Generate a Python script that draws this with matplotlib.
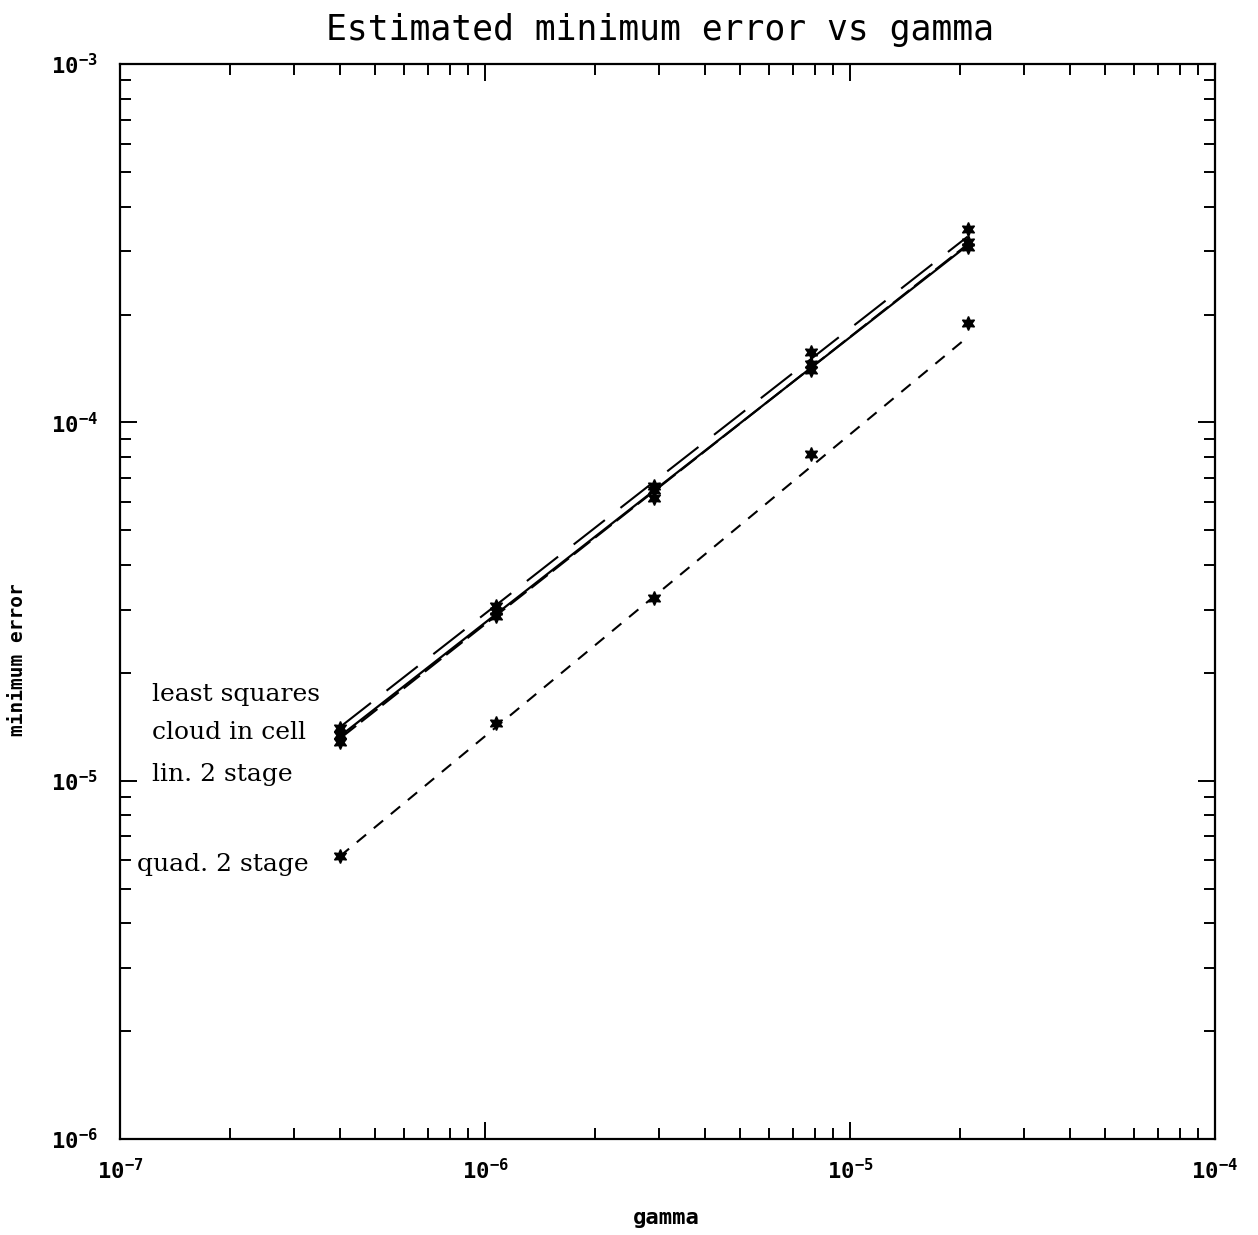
import matplotlib.pyplot as plt
import numpy as np
from matplotlib.ticker import LogLocator, FuncFormatter, NullFormatter

plt.rcParams['font.family'] = 'DejaVu Sans Mono'
plt.rcParams['mathtext.fontset'] = 'custom'
plt.rcParams['mathtext.rm'] = 'DejaVu Sans Mono'

# gamma values of the runs
gamma = np.array([4.0e-7, 1.07e-6, 2.9e-6, 7.8e-6, 2.1e-5])

# measured minimum error for each method
err_least_squares = np.array([1.34e-5, 2.98e-5, 6.48e-5, 1.46e-4, 3.18e-4])
err_cloud_in_cell = np.array([1.40e-5, 3.07e-5, 6.65e-5, 1.57e-4, 3.46e-4])
err_lin_2stage = np.array([1.28e-5, 2.88e-5, 6.16e-5, 1.40e-4, 3.08e-4])
err_quad_2stage = np.array([6.15e-6, 1.45e-5, 3.24e-5, 8.18e-5, 1.89e-4])

# fitted lines, value at first and last gamma
fit_gamma = np.array([4.0e-7, 2.1e-5])
fit_least_squares = np.array([1.33e-5, 3.12e-4])
fit_cloud_in_cell = np.array([1.41e-5, 3.30e-4])
fit_lin_2stage = np.array([1.31e-5, 3.14e-4])
fit_quad_2stage = np.array([6.15e-6, 1.73e-4])

labels = ['least squares', 'cloud in cell', 'lin. 2 stage', 'quad. 2 stage']

fig = plt.figure(figsize=(12.58, 12.35), dpi=100)
ax = fig.add_axes([0.0954, 0.0777, 0.8704, 0.8704])

star = (6, 1, 0)
for e in [err_least_squares, err_cloud_in_cell, err_lin_2stage, err_quad_2stage]:
    ax.plot(gamma, e, linestyle='none', marker=star, markersize=10, color='black')

ax.plot(fit_gamma, fit_least_squares, color='black', lw=1.6)
ax.plot(fit_gamma, fit_cloud_in_cell, color='black', lw=1.5, dashes=(19, 9.5))
ax.plot(fit_gamma, fit_lin_2stage, color='black', lw=1.5, dashes=(10, 3))
ax.plot(fit_gamma, fit_quad_2stage, color='black', lw=1.5, dashes=(5.8, 4.8))

ax.set_xscale('log')
ax.set_yscale('log')
ax.set_xlim(1e-7, 1e-4)
ax.set_ylim(1e-6, 1e-3)

def decade(v, pos):
    return '$\\mathregular{10^{%d}}$' % int(round(np.log10(v)))

for axis in [ax.xaxis, ax.yaxis]:
    axis.set_major_locator(LogLocator(base=10, numticks=10))
    axis.set_minor_locator(LogLocator(base=10, subs=np.arange(2, 10), numticks=10))
    axis.set_major_formatter(FuncFormatter(decade))
    axis.set_minor_formatter(NullFormatter())

ax.tick_params(which='both', direction='in', top=True, right=True, width=1.4)
ax.tick_params(which='major', length=12)
ax.tick_params(which='minor', length=8)
ax.tick_params(axis='x', which='major', pad=14, labelsize=16)
ax.tick_params(axis='y', which='major', pad=16, labelsize=16)
for lab in ax.get_xticklabels() + ax.get_yticklabels():
    lab.set_fontweight('bold')
for s in ax.spines.values():
    s.set_linewidth(1.6)

# method names next to the lines
for txt, x, y in zip(labels, [0.029, 0.029, 0.029, 0.0155], [0.414, 0.378, 0.339, 0.255]):
    ax.text(x, y, txt, transform=ax.transAxes, family='DejaVu Serif',
            fontsize=18, va='center', ha='left')

fig.text(0.525, 1 - 30 / 1235, 'Estimated minimum error vs gamma', fontsize=25,
         ha='center', va='center')
fig.text(0.53, 1 - 1218 / 1235, 'gamma', fontsize=16, fontweight='bold',
         ha='center', va='center')
fig.text(18 / 1258, 1 - 660 / 1235, 'minimum error', fontsize=14, fontweight='bold',
         rotation=90, ha='center', va='center')

plt.savefig('out.png', dpi=100)
